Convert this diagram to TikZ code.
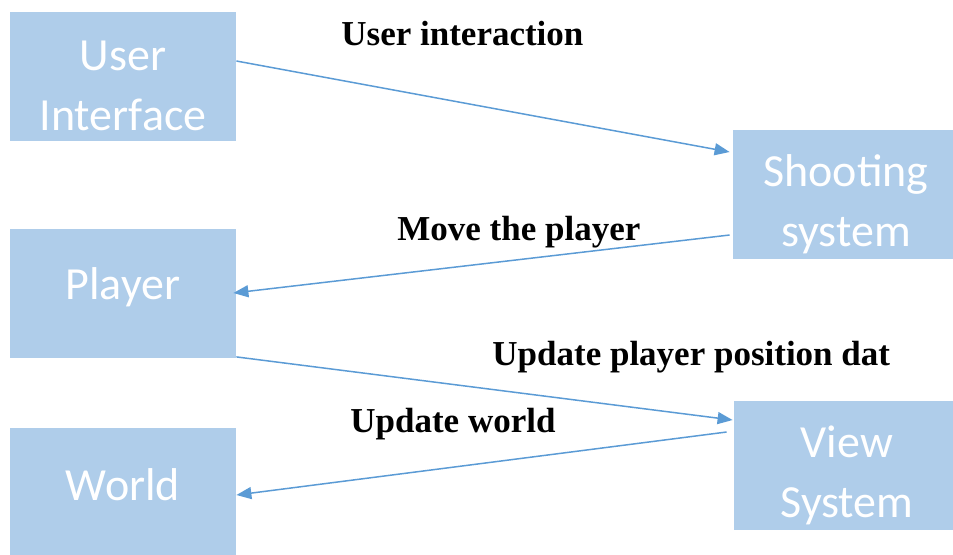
\documentclass[tikz,border=0pt]{standalone}
\usepackage{fontspec}
\setmainfont{Liberation Serif}
\setsansfont{Carlito}
\usetikzlibrary{arrows.meta}

\definecolor{boxblue}{HTML}{AFCDEA}
\definecolor{linkblue}{HTML}{5B9BD5}

\tikzset{
	module/.style={fill=boxblue, inner sep=0pt, minimum width=113pt, minimum height=64.5pt},
	modtext/.style={text=white, align=center, inner sep=0pt,
		font=\sffamily\fontsize{23}{30}\selectfont},
	link/.style={linkblue, line width=0.75pt, -{Triangle[length=7.5pt, width=6pt]}},
	note/.style={font=\bfseries\fontsize{17.5}{20}\selectfont, anchor=base west, inner sep=0pt},
}

\begin{document}
\begin{tikzpicture}[x=0.5pt, y=-0.5pt]
		\useasboundingbox (0, 0) rectangle (953, 554);
		% modules
		\node[module, label={[modtext, yshift=-4.75pt]center:User\\Interface}] (ui) at (123, 76.5) {};
		\node[module, label={[modtext, yshift=-5pt]center:Shooting\\system}] (shoot) at (846, 194.5) {};
		\node[module, label={[modtext, yshift=3pt]center:Player}] (player) at (123, 293) {};
		\node[module, label={[modtext, yshift=-5pt]center:View\\System}] (view) at (847, 465.5) {};
		\node[module, label={[modtext, yshift=4pt]center:World}] (world) at (123, 492.5) {};
		% links
		\draw[link] ([yshift=7.75pt]ui.east) -- ([xshift=-1.5pt, yshift=21.25pt]shoot.west);
		\draw[link] ([xshift=-1.5pt, yshift=-20.25pt]shoot.west) -- ([xshift=-1.5pt]player.east);
		\draw[link] ([yshift=0.5pt]player.south east) -- ([xshift=-0.5pt, yshift=22.75pt]view.west);
		\draw[link] ([xshift=-3.5pt, yshift=16.75pt]view.west) -- ([yshift=-1.25pt]world.east);
		% labels
		\node[note] (interact) at (341, 45) {User interaction};
		\node[note] (move) at (397, 240) {Move the player};
		\node[note] (posdata) at (492, 365) {Update player position dat};
		\node[note] (upworld) at (350, 432) {Update world};
	\end{tikzpicture}
\end{document}
